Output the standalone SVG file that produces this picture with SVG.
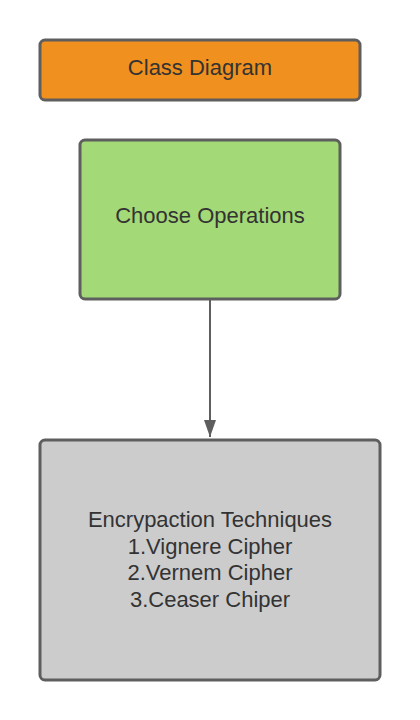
<svg xmlns="http://www.w3.org/2000/svg" width="420" height="720" viewBox="0 0 420 720">
<defs>
<style>
.box{stroke:#5e5e5e;stroke-width:3}
.t{font-family:"Liberation Sans",Arial,sans-serif;font-size:22px;fill:#333333;text-anchor:middle}
.c{stroke:#5e5e5e;stroke-width:2;fill:none}
</style>
<marker id="ah" markerWidth="18" markerHeight="12" refX="17" refY="6" orient="auto" markerUnits="userSpaceOnUse">
<path d="M0,0 L17,6 L0,12 Z" fill="#5e5e5e"/>
</marker>
</defs>
<rect width="420" height="720" fill="#ffffff"/>
<g id="class-diagram">
<rect class="box" x="40" y="40" width="320" height="60" rx="5" fill="#f0901f"/>
<text class="t" x="200" y="75">Class Diagram</text>
</g>
<g id="choose-operations">
<rect class="box" x="80" y="140" width="260" height="159" rx="5" fill="#a3d977"/>
<text class="t" x="210" y="223">Choose Operations</text>
</g>
<g id="encryption-techniques">
<rect class="box" x="40" y="440" width="340" height="240" rx="5" fill="#cccccc"/>
<text class="t" x="210" y="527">Encrypaction Techniques</text>
<text class="t" x="210" y="554">1.Vignere Cipher</text>
<text class="t" x="210" y="580">2.Vernem Cipher</text>
<text class="t" x="210" y="607">3.Ceaser Chiper</text>
</g>
<g id="connectors">
<line class="c" x1="210" y1="300" x2="210" y2="437" marker-end="url(#ah)"/>
</g>
</svg>
